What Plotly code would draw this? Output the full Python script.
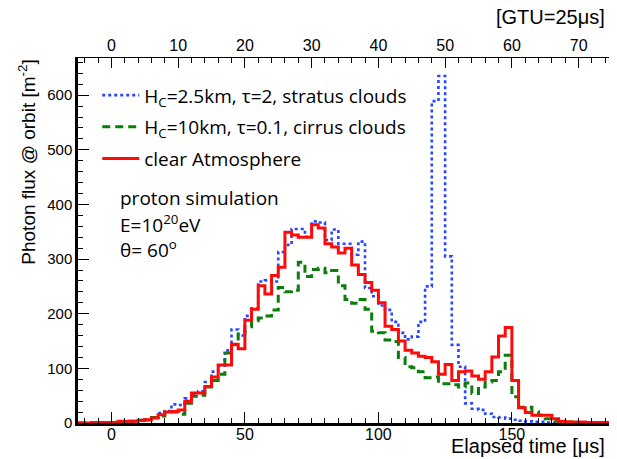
import numpy as np
import plotly.graph_objects as go

# ---------------- data ----------------
bin_width = 2.5          # microseconds (1 GTU)
t_first_edge = -12.5     # first bin lower edge [us]

stratus_vals = [0, 0, 0, 1, 1, 1, 2, 2, 3, 4,
                5, 10, 18, 22, 34, 33, 45, 52, 58, 75,
                94, 105, 133, 171, 160, 196, 210, 259, 261, 259,
                313, 326, 355, 355, 341, 369, 367, 335, 354, 328,
                328, 308, 332, 247, 232, 215, 207, 185, 165, 153,
                158, 185, 250, 589, 635, 305, 143, 103, 36, 26,
                24, 17, 11, 10, 8, 6, 4, 3, 2, 2,
                1, 1, 1, 0, 0, 0, 0, 0, 0, 0]

cirrus_vals = [0, 0, 1, 1, 1, 1, 2, 3, 3, 5,
               6, 10, 13, 20, 20, 16, 36, 49, 51, 66,
               78, 89, 128, 143, 163, 176, 187, 192, 196, 207,
               248, 240, 243, 294, 268, 281, 283, 275, 279, 251,
               226, 219, 226, 208, 168, 165, 152, 149, 120, 103,
               101, 94, 83, 84, 72, 72, 70, 66, 73, 54,
               66, 75, 78, 94, 124, 48, 29, 29, 20, 14,
               8, 3, 2, 2, 1, 1, 1, 1, 0, 0]

clear_vals = [0, 0, 1, 1, 1, 1, 3, 3, 3, 5,
              6, 9, 15, 20, 21, 24, 40, 55, 55, 67,
              84, 106, 106, 144, 136, 188, 208, 251, 236, 270,
              285, 349, 344, 340, 340, 363, 357, 328, 322, 311,
              320, 289, 272, 257, 243, 220, 177, 171, 150, 133,
              128, 122, 120, 112, 89, 107, 78, 94, 95, 86,
              80, 94, 121, 159, 175, 78, 28, 19, 14, 14,
              14, 8, 3, 2, 2, 2, 1, 1, 1, 1]

series_names = ["H<sub>C</sub>=2.5km, \u03c4=2, stratus clouds",
                "H<sub>C</sub>=10km, \u03c4=0.1, cirrus clouds",
                "clear Atmosphere"]

x_range = [-12.5, 187.5]
y_range = [0, 668]
gtu_us = 2.5

bottom_ticks = [0, 50, 100, 150]
top_ticks = [0, 10, 20, 30, 40, 50, 60, 70]
y_ticks = [0, 100, 200, 300, 400, 500, 600]

info_lines = ["proton simulation", "E=10<sup>20</sup>eV", "\u03b8= 60<sup>o</sup>"]

# ---------------- figure ----------------
n_bins = len(clear_vals)
edges = t_first_edge + bin_width * np.arange(n_bins + 1)


def step_y(vals):
    return list(vals) + [vals[-1]]


fig = go.Figure()
styles = [
    dict(color="rgb(40,70,255)", width=2.6, dash="3px,3px"),
    dict(color="rgb(10,125,10)", width=3, dash="8px,5px"),
    dict(color="rgb(255,10,10)", width=3),
]
for i, (vals, name, st) in enumerate(zip([stratus_vals, cirrus_vals, clear_vals], series_names, styles)):
    fig.add_trace(go.Scatter(
        x=edges, y=step_y(vals), mode="lines", name=name,
        line=dict(shape="hv", **st), legendgroup=f"g{i}",
        xaxis="x", yaxis="y",
    ))

tick_font = "Liberation Sans, Arial, sans-serif"
txt_font = "Open Sans, sans-serif"

# page body keeps the browser's default 8px margin: size the figure to fit the window
fig.update_layout(
    width=609, height=451,
    margin=dict(l=70, r=5, t=50, b=36),
    paper_bgcolor="white", plot_bgcolor="white",
    showlegend=True,
    legend=dict(x=0.036, y=0.950, xanchor="left", yanchor="top",
                bgcolor="rgba(0,0,0,0)", borderwidth=0,
                font=dict(family=txt_font, size=19, color="black"),
                itemwidth=37, tracegroupgap=4, traceorder="grouped"),
    xaxis=dict(range=x_range, tickmode="array", tickvals=bottom_ticks,
               ticks="inside", ticklen=11, tickwidth=1.2, tickcolor="black",
               minor=dict(dtick=5, tick0=0, ticks="inside", ticklen=5, tickcolor="black", tickwidth=1),
               showline=True, linewidth=2.5, linecolor="black", mirror=False,
               showgrid=False, zeroline=False, ticklabelstandoff=-5,
               tickfont=dict(family=tick_font, size=16, color="black")),
    xaxis2=dict(range=[x_range[0] / gtu_us, x_range[1] / gtu_us], overlaying="x", side="top",
                anchor="y", tickmode="array", tickvals=top_ticks,
                ticks="inside", ticklen=10, tickwidth=1.2, tickcolor="black",
                minor=dict(dtick=2, tick0=0, ticks="inside", ticklen=5, tickcolor="black", tickwidth=1),
                showline=True, linewidth=1.2, linecolor="black",
                showgrid=False, zeroline=False,
                tickfont=dict(family=tick_font, size=16, color="black")),
    yaxis=dict(range=y_range, tickmode="array", tickvals=y_ticks,
               ticks="inside", ticklen=11, tickwidth=1.2, tickcolor="black",
               minor=dict(dtick=20, tick0=0, ticks="inside", ticklen=5, tickcolor="black", tickwidth=1),
               showline=True, linewidth=2.5, linecolor="black", mirror=False,
               showgrid=False, zeroline=False,
               tickfont=dict(family=tick_font, size=15, color="black")),
)

# invisible trace so the top axis gets drawn
fig.add_trace(go.Scatter(x=[top_ticks[0]], y=[y_ticks[0]], mode="markers",
                         marker=dict(opacity=0), xaxis="x2", yaxis="y",
                         showlegend=False, hoverinfo="skip"))

# right frame line
fig.add_shape(type="line", xref="paper", yref="paper", x0=1, x1=1, y0=0, y1=1,
              line=dict(color="black", width=1.2))

annots = [
    dict(text="Photon flux @ orbit [m<sup>-2</sup>]", x=-0.097, y=1.0, xref="paper", yref="paper",
         xanchor="center", yanchor="top", textangle=-90, showarrow=False,
         font=dict(family=tick_font, size=19, color="black")),
    dict(text="Elapsed time [\u03bcs]", x=0.991, y=-0.063, xref="paper", yref="paper",
         xanchor="right", yanchor="middle", showarrow=False,
         font=dict(family=tick_font, size=20, color="black")),
    dict(text="[GTU=25\u03bcs]", x=0.990, y=1.111, xref="paper", yref="paper",
         xanchor="right", yanchor="middle", showarrow=False,
         font=dict(family=tick_font, size=20, color="black")),
]
for k, (line, ypx) in enumerate(zip(info_lines, [198, 224, 249])):
    annots.append(dict(text=line, x=0.075, y=(422.7 - ypx) / 364.4, xref="paper", yref="paper",
                       xanchor="left", yanchor="middle", showarrow=False,
                       font=dict(family=txt_font, size=19, color="black")))
fig.update_layout(annotations=annots)

fig.write_html("out.html")
